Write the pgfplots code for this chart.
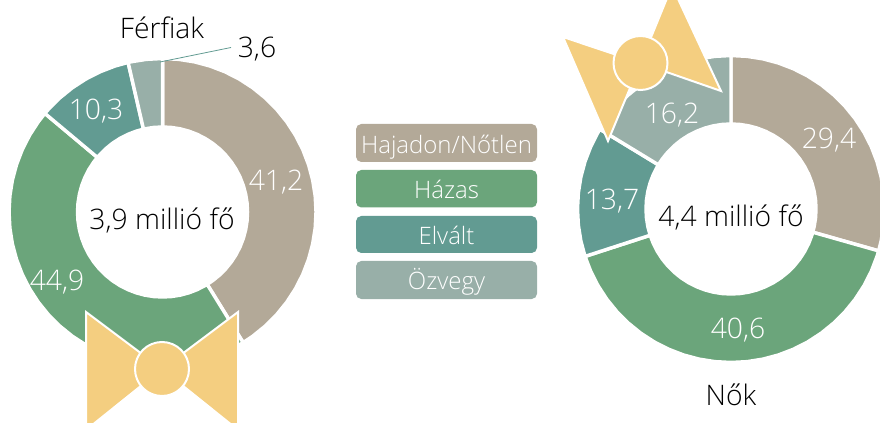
\documentclass[border=0pt]{standalone}
\usepackage{pgfplots}
\pgfplotsset{compat=1.18}
\usepgfplotslibrary{polar}
\usepackage{fontspec}
\setmainfont{Open Sans Light}
\definecolor{beige}{HTML}{B3A998}
\definecolor{zold}{HTML}{6BA57B}
\definecolor{teal1}{HTML}{629B92}
\definecolor{szurke}{HTML}{98AFA8}
\definecolor{sarga}{HTML}{F4CE80}
\pgfplotsset{
  donut/.style={hide axis,scale only axis,width=230.25pt,height=230.25pt,xmin=0,xmax=360,ymin=0,ymax=153.5,clip=false,anchor=center},
}
\tikzset{
  szelet/.style={draw=white,line width=2.6pt,line join=round},
  cimke/.style={font=\fontsize{21.2}{25}\selectfont,anchor=base,inner sep=0pt},
  kis/.style={font=\fontsize{18}{21}\selectfont,anchor=base,inner sep=0pt,text=white},
}
\begin{document}
\begin{tikzpicture}
\path[use as bounding box] (0,0) rectangle (660pt,317.25pt);
\clip (0,0) rectangle (660pt,317.25pt);

% Férfiak
\begin{polaraxis}[donut,at={(121.9pt,158.25pt)}]
\addplot[szelet,fill=beige] coordinates {(90,153.5)(84,153.5)(78,153.5)(72,153.5)(66,153.5)(60,153.5)(54,153.5)(48,153.5)(42,153.5)(36,153.5)(30,153.5)(24,153.5)(18,153.5)(12,153.5)(6,153.5)(0,153.5)(-6,153.5)(-12,153.5)(-18,153.5)(-24,153.5)(-30,153.5)(-36,153.5)(-42,153.5)(-48,153.5)(-54,153.5)(-58.32,153.5)
 (-58.32,85)(-54,85)(-48,85)(-42,85)(-36,85)(-30,85)(-24,85)(-18,85)(-12,85)(-6,85)(0,85)(6,85)(12,85)(18,85)(24,85)(30,85)(36,85)(42,85)(48,85)(54,85)(60,85)(66,85)(72,85)(78,85)(84,85)(90,85)} --cycle;
\addplot[szelet,fill=zold] coordinates {(-58.32,153.5)(-60,153.5)(-66,153.5)(-72,153.5)(-78,153.5)(-84,153.5)(-90,153.5)(-96,153.5)(-102,153.5)(-108,153.5)(-114,153.5)(-120,153.5)(-126,153.5)(-132,153.5)(-138,153.5)(-144,153.5)(-150,153.5)(-156,153.5)(-162,153.5)(-168,153.5)(-174,153.5)(-180,153.5)(-186,153.5)(-192,153.5)(-198,153.5)(-204,153.5)(-210,153.5)(-216,153.5)(-219.96,153.5)
 (-219.96,85)(-216,85)(-210,85)(-204,85)(-198,85)(-192,85)(-186,85)(-180,85)(-174,85)(-168,85)(-162,85)(-156,85)(-150,85)(-144,85)(-138,85)(-132,85)(-126,85)(-120,85)(-114,85)(-108,85)(-102,85)(-96,85)(-90,85)(-84,85)(-78,85)(-72,85)(-66,85)(-60,85)(-58.32,85)} --cycle;
\addplot[szelet,fill=teal1] coordinates {(-219.96,153.5)(-222,153.5)(-228,153.5)(-234,153.5)(-240,153.5)(-246,153.5)(-252,153.5)(-257.04,153.5)
 (-257.04,85)(-252,85)(-246,85)(-240,85)(-234,85)(-228,85)(-222,85)(-219.96,85)} --cycle;
\addplot[szelet,fill=szurke] coordinates {(-257.04,153.5)(-258,153.5)(-264,153.5)(-270,153.5)
 (-270,85)(-264,85)(-258,85)(-257.04,85)} --cycle;
\end{polaraxis}

% Nők
\begin{polaraxis}[donut,at={(548.25pt,160.5pt)}]
\addplot[szelet,fill=beige] coordinates {(90,153.5)(84,153.5)(78,153.5)(72,153.5)(66,153.5)(60,153.5)(54,153.5)(48,153.5)(42,153.5)(36,153.5)(30,153.5)(24,153.5)(18,153.5)(12,153.5)(6,153.5)(0,153.5)(-6,153.5)(-12,153.5)(-15.84,153.5)
 (-15.84,85)(-12,85)(-6,85)(0,85)(6,85)(12,85)(18,85)(24,85)(30,85)(36,85)(42,85)(48,85)(54,85)(60,85)(66,85)(72,85)(78,85)(84,85)(90,85)} --cycle;
\addplot[szelet,fill=zold] coordinates {(-15.84,153.5)(-18,153.5)(-24,153.5)(-30,153.5)(-36,153.5)(-42,153.5)(-48,153.5)(-54,153.5)(-60,153.5)(-66,153.5)(-72,153.5)(-78,153.5)(-84,153.5)(-90,153.5)(-96,153.5)(-102,153.5)(-108,153.5)(-114,153.5)(-120,153.5)(-126,153.5)(-132,153.5)(-138,153.5)(-144,153.5)(-150,153.5)(-156,153.5)(-162,153.5)
 (-162,85)(-156,85)(-150,85)(-144,85)(-138,85)(-132,85)(-126,85)(-120,85)(-114,85)(-108,85)(-102,85)(-96,85)(-90,85)(-84,85)(-78,85)(-72,85)(-66,85)(-60,85)(-54,85)(-48,85)(-42,85)(-36,85)(-30,85)(-24,85)(-18,85)(-15.84,85)} --cycle;
\addplot[szelet,fill=teal1] coordinates {(-162,153.5)(-168,153.5)(-174,153.5)(-180,153.5)(-186,153.5)(-192,153.5)(-198,153.5)(-204,153.5)(-210,153.5)(-211.32,153.5)
 (-211.32,85)(-210,85)(-204,85)(-198,85)(-192,85)(-186,85)(-180,85)(-174,85)(-168,85)(-162,85)} --cycle;
\addplot[szelet,fill=szurke] coordinates {(-211.32,153.5)(-216,153.5)(-222,153.5)(-228,153.5)(-234,153.5)(-240,153.5)(-246,153.5)(-252,153.5)(-258,153.5)(-264,153.5)(-270,153.5)
 (-270,85)(-264,85)(-258,85)(-252,85)(-246,85)(-240,85)(-234,85)(-228,85)(-222,85)(-216,85)(-211.32,85)} --cycle;
\end{polaraxis}

% bows, legend and text, in pixel coordinates of the reference
\begin{axis}[hide axis,scale only axis,width=660pt,height=317.25pt,at={(0,0)},anchor=south west,
  xmin=0,xmax=880,ymin=0,ymax=423,y dir=reverse,clip=false]
\addplot[draw=white,line width=1.5pt,fill=sarga,line join=miter] coordinates {(162,369)(86,312)(86,430)} --cycle;
\addplot[draw=white,line width=1.5pt,fill=sarga,line join=miter] coordinates {(162,369)(238,312)(238,430)} --cycle;
\addplot[only marks,mark=*,mark size=20.25pt,mark options={draw=white,line width=1.5pt,fill=sarga}] coordinates {(162,369)};

\addplot[draw=white,line width=1.5pt,fill=sarga,line join=miter] coordinates {(640.5,63)(563,37)(608,141)} --cycle;
\addplot[draw=white,line width=1.5pt,fill=sarga,line join=miter] coordinates {(640.5,63)(672,-14)(721,91)} --cycle;
\addplot[only marks,mark=*,mark size=20.25pt,mark options={draw=white,line width=1.5pt,fill=sarga}] coordinates {(640.5,63)};

\addplot[color=teal1,line width=0.6pt] coordinates {(160,62)(231,47.5)};

\addplot[fill=beige,draw=none,rounded corners=4pt] coordinates {(356,124)(537,124)(537,162)(356,162)} --cycle;
\addplot[fill=zold,draw=none,rounded corners=4pt] coordinates {(356,170)(537,170)(537,207.5)(356,207.5)} --cycle;
\addplot[fill=teal1,draw=none,rounded corners=4pt] coordinates {(356,216)(537,216)(537,253)(356,253)} --cycle;
\addplot[fill=szurke,draw=none,rounded corners=4pt] coordinates {(356,261)(537,261)(537,299)(356,299)} --cycle;

\node[kis] at (axis cs:446.5,154) {Hajadon/Nőtlen};
\node[kis] at (axis cs:446.5,199) {Házas};
\node[kis] at (axis cs:446.5,244.5) {Elvált};
\node[kis] at (axis cs:446.5,290) {Özvegy};

\node[cimke] at (axis cs:162,38.5) {Férfiak};
\node[cimke] at (axis cs:257,58) {3,6};
\node[cimke,text=white] at (axis cs:276,191) {41,2};
\node[cimke,text=white] at (axis cs:57,291) {44,9};
\node[cimke,text=white] at (axis cs:96,120) {10,3};
\node[cimke] at (axis cs:162,229.5) {3,9 millió fő};

\node[cimke,text=white] at (axis cs:829,149) {29,4};
\node[cimke,text=white] at (axis cs:738,338) {40,6};
\node[cimke,text=white] at (axis cs:612,210) {13,7};
\node[cimke,text=white] at (axis cs:672,124) {16,2};
\node[cimke] at (axis cs:731,226.5) {4,4 millió fő};
\node[cimke] at (axis cs:731,405) {Nők};
\end{axis}
\end{tikzpicture}
\end{document}
